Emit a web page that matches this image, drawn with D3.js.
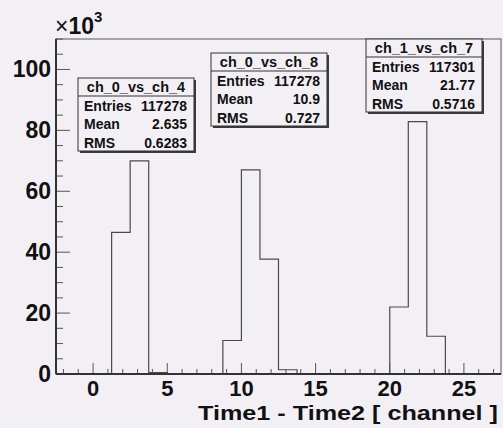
<!DOCTYPE html>
<html>
<head>
<meta charset="utf-8">
<script src="https://cdn.jsdelivr.net/npm/d3@7"></script>
<style>
  html, body { margin: 0; padding: 0; background: #f3f0f5; }
  svg { display: block; }
  text { font-family: "Liberation Sans", Arial, Helvetica, sans-serif; font-weight: bold; fill: #111; }
</style>
</head>
<body>
<svg id="chart" width="503" height="428"></svg>
<script>
// Histogram bin width (channels)
const binWidth = 1.25;

// ch_0_vs_ch_4
const h1Starts = [1.25, 2.5, 3.75];
const h1Counts = [46500, 70000, 500];
// ch_0_vs_ch_8
const h2Starts = [8.75, 10, 11.25, 12.5];
const h2Counts = [11000, 67000, 37700, 1400];
// ch_1_vs_ch_7
const h3Starts = [20, 21.25, 22.5];
const h3Counts = [22000, 82900, 12400];

// Stats box contents
const statNames = ["ch_0_vs_ch_4", "ch_0_vs_ch_8", "ch_1_vs_ch_7"];
const statEntries = ["117278", "117278", "117301"];
const statMean = ["2.635", "10.9", "21.77"];
const statRMS = ["0.6283", "0.727", "0.5716"];

const xTicks = [0, 5, 10, 15, 20, 25];
const yTicks = [0, 20000, 40000, 60000, 80000, 100000];
const yTickLabels = ["0", "20", "40", "60", "80", "100"];

const svg = d3.select("#chart");
const frame = { left: 56, right: 501, top: 39, bottom: 374 };

const x = d3.scaleLinear().domain([-2.5, 27.5]).range([frame.left, frame.right]);
const y = d3.scaleLinear().domain([0, 110000]).range([frame.bottom, frame.top]);

// Frame (top/right)
svg.append("rect")
  .attr("x", frame.left).attr("y", frame.top)
  .attr("width", frame.right - frame.left).attr("height", frame.bottom - frame.top)
  .attr("fill", "none").attr("stroke", "#707070").attr("stroke-width", 1.2);

// Histograms as step outlines
const hists = [[h1Starts, h1Counts], [h2Starts, h2Counts], [h3Starts, h3Counts]];
hists.forEach(([starts, counts]) => {
  const pts = [[x(starts[0]), y(0)]];
  starts.forEach((s, i) => {
    pts.push([x(s), y(counts[i])]);
    pts.push([x(s + binWidth), y(counts[i])]);
  });
  pts.push([x(starts[starts.length - 1] + binWidth), y(0)]);
  svg.append("path")
    .attr("d", d3.line()(pts))
    .attr("fill", "none").attr("stroke", "#4a4a4a").attr("stroke-width", 1.2);
});

// Y axis
const yMinor = d3.range(0, 110001, 5000);
svg.selectAll(".ymin").data(yMinor).enter().append("line")
  .attr("x1", frame.left).attr("x2", d => frame.left + (d % 20000 === 0 ? 14 : 7))
  .attr("y1", d => y(d)).attr("y2", d => y(d))
  .attr("stroke", "#555").attr("stroke-width", 1);
svg.append("line")
  .attr("x1", frame.left).attr("x2", frame.left)
  .attr("y1", frame.top).attr("y2", frame.bottom)
  .attr("stroke", "#333").attr("stroke-width", 2);
svg.selectAll(".ylab").data(yTicks).enter().append("text")
  .attr("x", frame.left - 5).attr("y", d => y(d) + 8)
  .attr("text-anchor", "end").attr("font-size", 23)
  .text((d, i) => yTickLabels[i]);

// Exponent label
const expo = svg.append("text").attr("x", 55).attr("y", 34).attr("font-size", 23);
expo.append("tspan").attr("font-weight", "normal").text("\u00d7");
expo.append("tspan").text("10");
expo.append("tspan").attr("font-size", 15).attr("dy", -12).text("3");

// X axis
const xMinor = d3.range(-2, 28, 1);
svg.selectAll(".xmin").data(xMinor).enter().append("line")
  .attr("x1", d => x(d)).attr("x2", d => x(d))
  .attr("y1", frame.bottom).attr("y2", d => frame.bottom - (d % 5 === 0 ? 11 : 5))
  .attr("stroke", "#555").attr("stroke-width", 1);
svg.append("line")
  .attr("x1", frame.left).attr("x2", frame.right)
  .attr("y1", frame.bottom).attr("y2", frame.bottom)
  .attr("stroke", "#333").attr("stroke-width", 2);
svg.selectAll(".xlab").data(xTicks).enter().append("text")
  .attr("x", d => x(d)).attr("y", 396)
  .attr("text-anchor", "middle").attr("font-size", 22)
  .text(d => d);
svg.append("text")
  .attr("x", 198).attr("y", 419.5)
  .attr("font-size", 21)
  .attr("textLength", 300).attr("lengthAdjust", "spacingAndGlyphs")
  .text("Time1 - Time2 [ channel ]");

// Stats boxes
const boxPos = [[78, 78], [211, 53], [366, 39]];
const boxW = 116, boxH = 73, titleH = 18;
boxPos.forEach(([bx, by], i) => {
  const g = svg.append("g").attr("transform", `translate(${bx},${by})`);
  g.append("rect").attr("x", 2).attr("y", 2).attr("width", boxW).attr("height", boxH)
    .attr("fill", "#3a3a3a");
  g.append("rect").attr("x", 0).attr("y", 0).attr("width", boxW).attr("height", boxH)
    .attr("fill", "#f3f0f5").attr("stroke", "#333").attr("stroke-width", 1);
  g.append("line").attr("x1", 0).attr("x2", boxW).attr("y1", titleH).attr("y2", titleH)
    .attr("stroke", "#333").attr("stroke-width", 1);
  g.append("text").attr("x", boxW / 2).attr("y", 14).attr("text-anchor", "middle")
    .attr("font-size", 14.5).text(statNames[i]);
  const rows = [["Entries", statEntries[i]], ["Mean", statMean[i]], ["RMS", statRMS[i]]];
  rows.forEach(([k, v], j) => {
    g.append("text").attr("x", 6).attr("y", 33 + j * 18.3).attr("font-size", 14).text(k);
    g.append("text").attr("x", boxW - 7).attr("y", 33 + j * 18.3)
      .attr("text-anchor", "end").attr("font-size", 14).text(v);
  });
});
</script>
</body>
</html>
